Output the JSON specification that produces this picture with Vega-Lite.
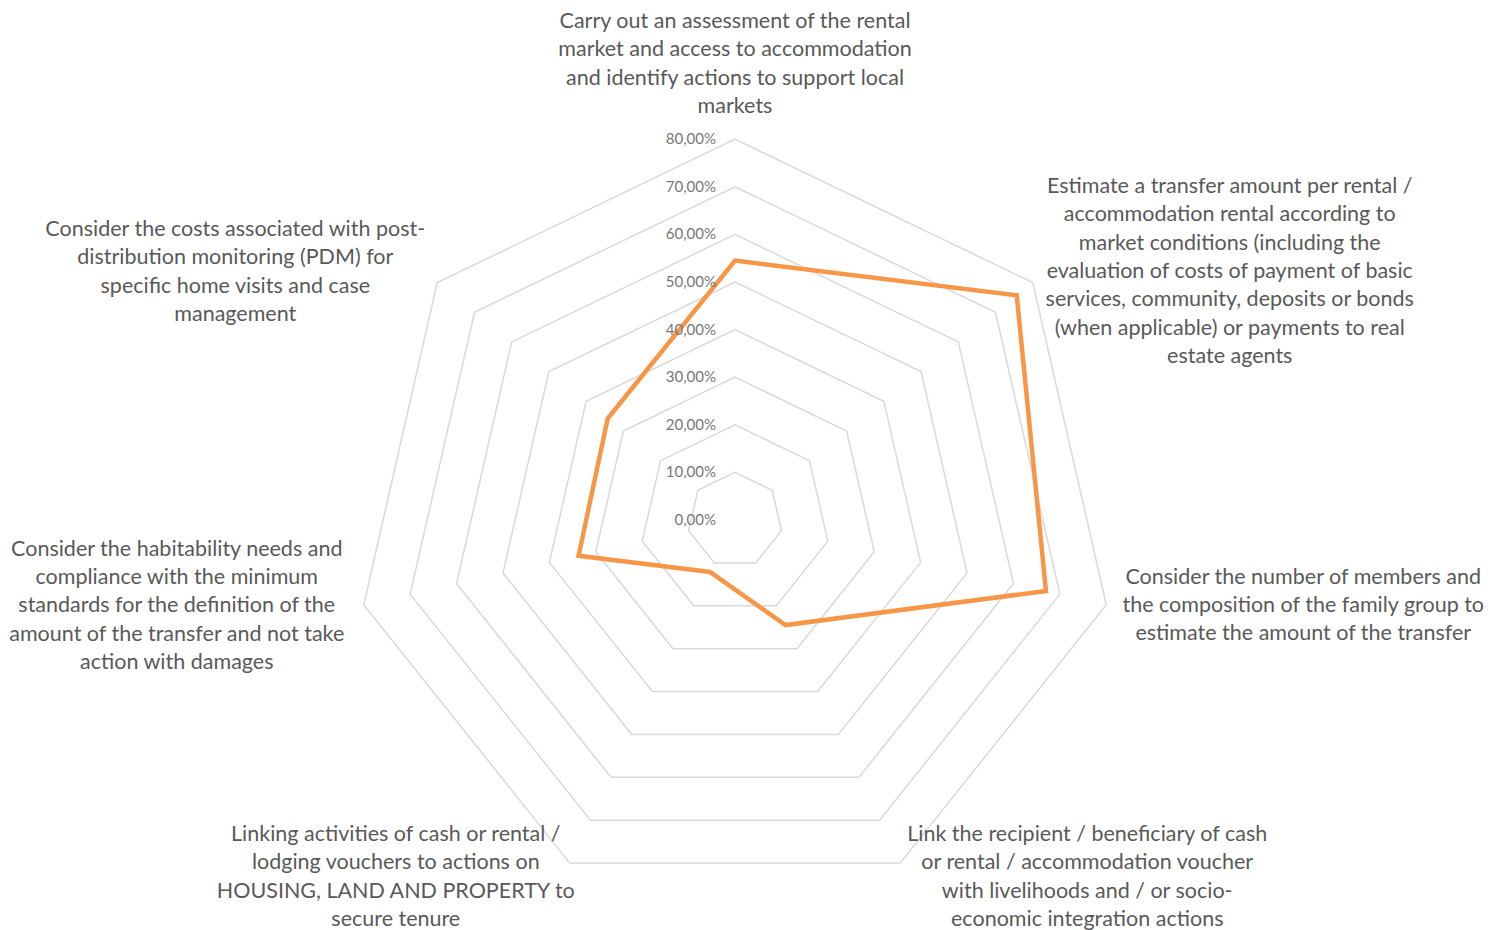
{
  "$schema": "https://vega.github.io/schema/vega-lite/v6.json",
  "width": 1499,
  "height": 930,
  "padding": 0,
  "autosize": {"type": "none"},
  "background": "white",
  "config": {"view": {"stroke": null}},
  "datasets": {
    "rings": [
      {"ring": 0, "label": "0,00%", "k": []},
      {"ring": 0.1, "label": "10,00%", "k": [0, 1, 2, 3, 4, 5, 6]},
      {"ring": 0.2, "label": "20,00%", "k": [0, 1, 2, 3, 4, 5, 6]},
      {"ring": 0.3, "label": "30,00%", "k": [0, 1, 2, 3, 4, 5, 6]},
      {"ring": 0.4, "label": "40,00%", "k": [0, 1, 2, 3, 4, 5, 6]},
      {"ring": 0.5, "label": "50,00%", "k": [0, 1, 2, 3, 4, 5, 6]},
      {"ring": 0.6, "label": "60,00%", "k": [0, 1, 2, 3, 4, 5, 6]},
      {"ring": 0.7, "label": "70,00%", "k": [0, 1, 2, 3, 4, 5, 6]},
      {"ring": 0.8, "label": "80,00%", "k": [0, 1, 2, 3, 4, 5, 6]}
    ],
    "scores": [
      {"k": 0, "value": 0.545, "label": ["Carry out an assessment of the rental", "market and access to accommodation", "and identify actions to support local", "markets"]},
      {"k": 1, "value": 0.757, "label": ["Estimate a transfer amount per rental /", "accommodation rental according to", "market conditions (including the", "evaluation of costs of payment of basic", "services, community, deposits or bonds", "(when applicable) or payments to real", "estate agents"]},
      {"k": 2, "value": 0.67, "label": ["Consider the number of members and", "the composition of the family group to", "estimate the amount of the transfer"]},
      {"k": 3, "value": 0.245, "label": ["Link the recipient / beneficiary of cash", "or rental / accommodation voucher", "with livelihoods and / or socio-", "economic integration actions"]},
      {"k": 4, "value": 0.121, "label": ["Linking activities of cash or rental /", "lodging vouchers to actions on", "HOUSING, LAND AND PROPERTY to", "secure tenure"]},
      {"k": 5, "value": 0.337, "label": ["Consider the habitability needs and", "compliance with the minimum", "standards for the definition of the", "amount of the transfer and not take", "action with damages"]},
      {"k": 6, "value": 0.342, "label": ["Consider the costs associated with post-", "distribution monitoring (PDM) for", "specific home visits and case", "management"]}
    ]
  },
  "encoding": {
    "x": {"field": "px", "type": "quantitative", "axis": null, "scale": {"domain": [-1.5441, 1.605], "nice": false, "zero": false}},
    "y": {"field": "py", "type": "quantitative", "axis": null, "scale": {"domain": [-0.8613, 1.0924], "nice": false, "zero": false}}
  },
  "layer": [
    {
      "data": {"name": "rings"},
      "transform": [
        {"flatten": ["k"]},
        {"calculate": "datum.k * 2 * PI / 7", "as": "a"},
        {"calculate": "datum.ring * sin(datum.a)", "as": "px"},
        {"calculate": "datum.ring * cos(datum.a)", "as": "py"}
      ],
      "mark": {"type": "line", "interpolate": "linear-closed", "stroke": "#d9d9d9", "strokeWidth": 1.5},
      "encoding": {
        "detail": {"field": "ring", "type": "nominal"},
        "order": {"field": "k", "type": "quantitative"}
      }
    },
    {
      "data": {"name": "scores"},
      "transform": [
        {"calculate": "datum.k * 2 * PI / 7", "as": "a"},
        {"calculate": "datum.value * sin(datum.a)", "as": "px"},
        {"calculate": "datum.value * cos(datum.a)", "as": "py"}
      ],
      "mark": {"type": "line", "interpolate": "linear-closed", "stroke": "#F79646", "strokeWidth": 4.5, "strokeJoin": "miter"},
      "encoding": {
        "order": {"field": "k", "type": "quantitative"}
      }
    },
    {
      "data": {"name": "rings"},
      "transform": [
        {"calculate": "0", "as": "px"},
        {"calculate": "datum.ring", "as": "py"}
      ],
      "mark": {"type": "text", "align": "right", "baseline": "middle", "dx": -19, "fontSize": 15, "font": "Lato", "fill": "#777777"},
      "encoding": {"text": {"field": "label"}}
    },
    {
      "data": {"name": "scores"},
      "transform": [
        {"filter": "datum.k == 0"},
        {"calculate": "datum.k * 2 * PI / 7", "as": "a"},
        {"calculate": "0.8 * sin(datum.a)", "as": "px"},
        {"calculate": "0.8 * cos(datum.a)", "as": "py"}
      ],
      "mark": {"type": "text", "align": "center", "baseline": "middle", "dx": 0, "dy": -117, "fontSize": 21.5, "lineHeight": 28.3, "font": "Lato", "fill": "#595959"},
      "encoding": {"text": {"field": "label"}}
    },
    {
      "data": {"name": "scores"},
      "transform": [
        {"filter": "datum.k == 1"},
        {"calculate": "datum.k * 2 * PI / 7", "as": "a"},
        {"calculate": "0.8 * sin(datum.a)", "as": "px"},
        {"calculate": "0.8 * cos(datum.a)", "as": "py"}
      ],
      "mark": {"type": "text", "align": "center", "baseline": "middle", "dx": 197, "dy": -95.5, "fontSize": 21.5, "lineHeight": 28.3, "font": "Lato", "fill": "#595959"},
      "encoding": {"text": {"field": "label"}}
    },
    {
      "data": {"name": "scores"},
      "transform": [
        {"filter": "datum.k == 2"},
        {"calculate": "datum.k * 2 * PI / 7", "as": "a"},
        {"calculate": "0.8 * sin(datum.a)", "as": "px"},
        {"calculate": "0.8 * cos(datum.a)", "as": "py"}
      ],
      "mark": {"type": "text", "align": "center", "baseline": "middle", "dx": 197, "dy": -27, "fontSize": 21.5, "lineHeight": 28.3, "font": "Lato", "fill": "#595959"},
      "encoding": {"text": {"field": "label"}}
    },
    {
      "data": {"name": "scores"},
      "transform": [
        {"filter": "datum.k == 3"},
        {"calculate": "datum.k * 2 * PI / 7", "as": "a"},
        {"calculate": "0.8 * sin(datum.a)", "as": "px"},
        {"calculate": "0.8 * cos(datum.a)", "as": "py"}
      ],
      "mark": {"type": "text", "align": "center", "baseline": "middle", "dx": 187, "dy": -28, "fontSize": 21.5, "lineHeight": 28.3, "font": "Lato", "fill": "#595959"},
      "encoding": {"text": {"field": "label"}}
    },
    {
      "data": {"name": "scores"},
      "transform": [
        {"filter": "datum.k == 4"},
        {"calculate": "datum.k * 2 * PI / 7", "as": "a"},
        {"calculate": "0.8 * sin(datum.a)", "as": "px"},
        {"calculate": "0.8 * cos(datum.a)", "as": "py"}
      ],
      "mark": {"type": "text", "align": "center", "baseline": "middle", "dx": -174, "dy": -28, "fontSize": 21.5, "lineHeight": 28.3, "font": "Lato", "fill": "#595959"},
      "encoding": {"text": {"field": "label"}}
    },
    {
      "data": {"name": "scores"},
      "transform": [
        {"filter": "datum.k == 5"},
        {"calculate": "datum.k * 2 * PI / 7", "as": "a"},
        {"calculate": "0.8 * sin(datum.a)", "as": "px"},
        {"calculate": "0.8 * cos(datum.a)", "as": "py"}
      ],
      "mark": {"type": "text", "align": "center", "baseline": "middle", "dx": -187, "dy": -55, "fontSize": 21.5, "lineHeight": 28.3, "font": "Lato", "fill": "#595959"},
      "encoding": {"text": {"field": "label"}}
    },
    {
      "data": {"name": "scores"},
      "transform": [
        {"filter": "datum.k == 6"},
        {"calculate": "datum.k * 2 * PI / 7", "as": "a"},
        {"calculate": "0.8 * sin(datum.a)", "as": "px"},
        {"calculate": "0.8 * cos(datum.a)", "as": "py"}
      ],
      "mark": {"type": "text", "align": "center", "baseline": "middle", "dx": -202, "dy": -52.5, "fontSize": 21.5, "lineHeight": 28.3, "font": "Lato", "fill": "#595959"},
      "encoding": {"text": {"field": "label"}}
    }
  ]
}
